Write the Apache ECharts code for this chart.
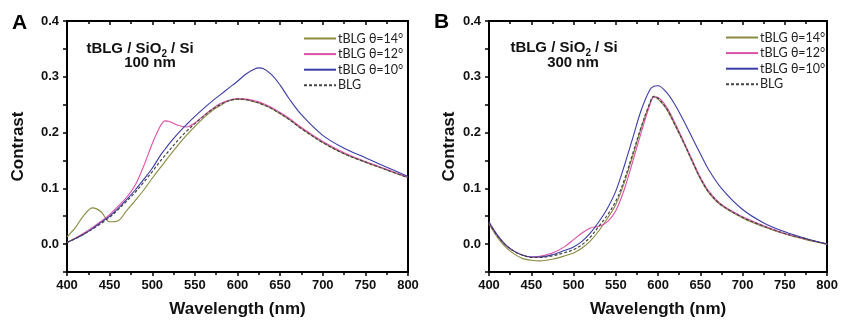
<!DOCTYPE html>
<html><head><meta charset="utf-8">
<script src="https://cdn.jsdelivr.net/npm/echarts/dist/echarts.min.js"></script>
<style>html,body{margin:0;padding:0;background:#fff}#c{width:841px;height:323px}</style>
</head><body><div id="c"></div>
<script>
// Panel A (100 nm SiO2)
const wlA = [400,410,420,430,440,450,460,470,480,490,500,510,515,520,530,540,550,560,570,580,590,600,610,620,625,630,640,650,660,675,700,725,750,775,800];
const a14 = [0.013,0.030,0.052,0.065,0.058,0.040,0.042,0.060,0.078,0.097,0.118,0.138,0.148,0.158,0.177,0.195,0.211,0.226,0.239,0.249,0.257,0.260,0.259,0.255,0.253,0.250,0.243,0.234,0.224,0.207,0.182,0.162,0.147,0.133,0.119];
const a12 = [0.003,0.011,0.020,0.030,0.041,0.053,0.068,0.084,0.106,0.140,0.180,0.213,0.221,0.220,0.213,0.210,0.217,0.230,0.242,0.252,0.258,0.261,0.260,0.257,0.255,0.252,0.245,0.236,0.226,0.209,0.184,0.164,0.148,0.134,0.120];
const a10 = [0.003,0.010,0.018,0.028,0.039,0.050,0.064,0.080,0.097,0.116,0.136,0.160,0.170,0.180,0.198,0.214,0.229,0.243,0.256,0.268,0.280,0.292,0.305,0.314,0.316,0.315,0.304,0.285,0.262,0.232,0.195,0.172,0.155,0.138,0.121];
const aBLG = [0.003,0.010,0.018,0.027,0.037,0.048,0.062,0.077,0.093,0.111,0.130,0.150,0.159,0.168,0.186,0.202,0.216,0.229,0.241,0.250,0.257,0.260,0.259,0.255,0.253,0.250,0.243,0.234,0.224,0.207,0.182,0.162,0.147,0.133,0.119];
// Panel B (300 nm SiO2)
const wlB = [400,410,420,430,440,450,460,475,490,500,510,520,530,540,550,560,570,580,590,595,600,610,620,630,640,650,660,675,700,725,750,775,800];
const b14 = [0.036,0.012,-0.006,-0.018,-0.026,-0.029,-0.030,-0.027,-0.021,-0.016,-0.007,0.006,0.024,0.046,0.071,0.110,0.158,0.208,0.251,0.264,0.260,0.242,0.213,0.182,0.149,0.117,0.092,0.069,0.047,0.031,0.018,0.008,0.000];
const b12 = [0.038,0.015,-0.002,-0.013,-0.020,-0.023,-0.022,-0.016,-0.004,0.008,0.020,0.029,0.032,0.040,0.060,0.098,0.148,0.200,0.248,0.264,0.263,0.246,0.217,0.185,0.152,0.120,0.095,0.071,0.049,0.033,0.019,0.009,0.000];
const b10 = [0.040,0.016,-0.002,-0.013,-0.020,-0.023,-0.023,-0.019,-0.011,-0.005,0.005,0.020,0.040,0.064,0.095,0.140,0.190,0.240,0.276,0.283,0.284,0.272,0.250,0.222,0.192,0.162,0.133,0.100,0.062,0.038,0.022,0.010,0.000];
const bBLG = [0.038,0.015,-0.002,-0.013,-0.020,-0.024,-0.024,-0.021,-0.015,-0.010,-0.001,0.013,0.032,0.052,0.077,0.115,0.162,0.210,0.252,0.265,0.261,0.243,0.214,0.183,0.150,0.118,0.093,0.070,0.048,0.032,0.019,0.009,0.000];

const names = ['tBLG θ=14°','tBLG θ=12°','tBLG θ=10°','BLG'];
const colors = ['#8a8a40','#dd4fa8','#3c3ca8','#444444'];
const xMin = 400, xMax = 800, xStep = 50;
const yMin = -0.05, yMax = 0.4, yStep = 0.05;

const chart = echarts.init(document.getElementById('c'));
const lblFont = {fontFamily:'Liberation Sans', fontWeight:'bold', fontSize:13, color:'#111'};
function xAxes(grid){
  return [{
    gridIndex:grid, type:'value', min:xMin, max:xMax, interval:xStep, position:'bottom',
    name:'Wavelength (nm)', nameLocation:'middle', nameGap:29,
    nameTextStyle:{fontFamily:'Liberation Sans', fontWeight:'bold', fontSize:17, color:'#111'},
    axisLine:{onZero:false, lineStyle:{color:'#000', width:2}}, splitLine:{show:false},
    axisTick:{inside:false, length:4, lineStyle:{color:'#000', width:1.5}},
    minorTick:{show:true, splitNumber:2, length:3, lineStyle:{color:'#000', width:1.5}},
    axisLabel:Object.assign({margin:7}, lblFont)
  },{
    gridIndex:grid, type:'value', min:xMin, max:xMax, interval:xStep, position:'top',
    axisLine:{onZero:false, lineStyle:{color:'#000', width:2}}, splitLine:{show:false},
    axisTick:{inside:true, length:4, lineStyle:{color:'#000', width:1.5}},
    minorTick:{show:true, splitNumber:2, length:3, lineStyle:{color:'#000', width:1.5}},
    axisLabel:{show:false}
  }];
}
function yAxes(grid, gap){
  return [{
    gridIndex:grid, type:'value', min:yMin, max:yMax, interval:yStep, position:'left',
    name:'Contrast', nameLocation:'middle', nameGap:gap,
    nameTextStyle:{fontFamily:'Liberation Sans', fontWeight:'bold', fontSize:17, color:'#111'},
    axisLine:{onZero:false, lineStyle:{color:'#000', width:2}}, splitLine:{show:false},
    axisTick:{inside:false, length:4, lineStyle:{color:'#000', width:1.5}},
    axisLabel:Object.assign({margin:8, formatter:function(v){
      const k = Math.round(v*100);
      return (k % 10 === 0) ? (k/100).toFixed(1) : '';
    }}, lblFont)
  },{
    gridIndex:grid, type:'value', min:yMin, max:yMax, interval:yStep, position:'right',
    axisLine:{onZero:false, lineStyle:{color:'#000', width:2}}, splitLine:{show:false},
    axisTick:{show:false}, axisLabel:{show:false}
  }];
}
function mk(name, idx, wl, vals, grid){
  return {
    name:name, type:'line', xAxisIndex:grid*2, yAxisIndex:grid*2,
    data: wl.map((w,i)=>[w, vals[i]]), smooth:0.35, symbol:'none', showSymbol:false,
    lineStyle:{color:colors[idx], width: idx===3 ? 1.2 : 1.1, type: idx===3 ? [3,2] : 'solid'},
    itemStyle:{color:colors[idx]}, z: idx===3 ? 5 : 3
  };
}
const legendCommon = {
  orient:'vertical', itemWidth:32, itemHeight:10, itemGap:2.6, padding:0, selectedMode:false,
  itemStyle:{opacity:0},
  textStyle:{fontFamily:'Lato', fontSize:12.5, lineHeight:13, color:'#222', padding:[0,0,0,-3]},
  data: names
};
const option = {
  animation:false,
  grid:[{left:67, top:21, width:341, height:253},{left:489, top:21, width:341, height:253}],
  xAxis: xAxes(0).concat(xAxes(1)),
  yAxis: yAxes(0, 40).concat(yAxes(1, 31)),
  legend:[
    Object.assign({left:303, top:32}, legendCommon),
    Object.assign({left:725, top:31}, legendCommon)
  ],
  series:[
    mk(names[0],0,wlA,a14,0), mk(names[1],1,wlA,a12,0), mk(names[2],2,wlA,a10,0), mk(names[3],3,wlA,aBLG,0),
    mk(names[0],0,wlB,b14,1), mk(names[1],1,wlB,b12,1), mk(names[2],2,wlB,b10,1), mk(names[3],3,wlB,bBLG,1)
  ],
  graphic:[
    {type:'text', left:12, top:13, style:{text:'A', font:'bold 21px "Liberation Sans"', fill:'#000'}},
    {type:'text', left:434, top:12, style:{text:'B', font:'bold 21px "Liberation Sans"', fill:'#000'}},
    {type:'text', x:140, y:47, style:{text:'{b|tBLG / SiO}{s|2}{b| / Si}', align:'center', verticalAlign:'middle',
      rich:{b:{font:'bold 15px "Liberation Sans"', fill:'#111', lineHeight:18, verticalAlign:'bottom'}, s:{font:'bold 10px "Liberation Sans"', fill:'#111', lineHeight:18, verticalAlign:'bottom', padding:[0,0,-3,0]}}}},
    {type:'text', x:150, y:63, style:{text:'100 nm', align:'center', verticalAlign:'middle', font:'bold 15px "Liberation Sans"', fill:'#111'}},
    {type:'text', x:564, y:46, style:{text:'{b|tBLG / SiO}{s|2}{b| / Si}', align:'center', verticalAlign:'middle',
      rich:{b:{font:'bold 15px "Liberation Sans"', fill:'#111', lineHeight:18, verticalAlign:'bottom'}, s:{font:'bold 10px "Liberation Sans"', fill:'#111', lineHeight:18, verticalAlign:'bottom', padding:[0,0,-3,0]}}}},
    {type:'text', x:573, y:63, style:{text:'300 nm', align:'center', verticalAlign:'middle', font:'bold 15px "Liberation Sans"', fill:'#111'}}
  ]
};
chart.setOption(option);
</script></body></html>
